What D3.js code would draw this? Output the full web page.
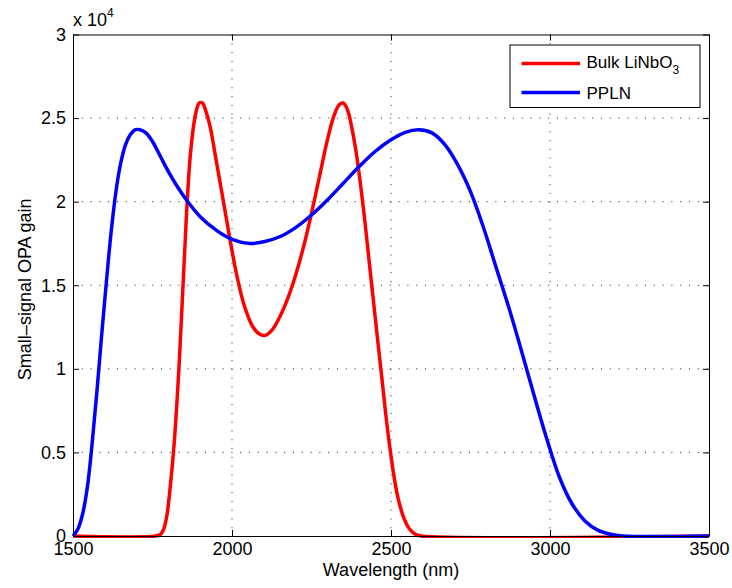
<!DOCTYPE html>
<html>
<head>
<meta charset="utf-8">
<script src="https://cdn.jsdelivr.net/npm/d3@7"></script>
<style>
  body { margin: 0; background: #fff; }
  svg { font-family: "Liberation Sans", Arial, Helvetica, sans-serif; }
</style>
</head>
<body>
<div id="chart"></div>
<script>
// wavelength (nm) and gain (in units of 1e4)
var bulkX = [1500, 1760, 1775, 1785, 1795, 1805, 1818, 1833, 1846, 1857, 1870, 1885, 1897, 1907, 1918, 1931, 1950, 1973, 1994, 2015, 2040, 2066, 2085, 2104, 2125, 2150, 2175, 2200, 2225, 2250, 2275, 2300, 2320, 2337, 2350, 2363, 2377, 2390, 2403, 2418, 2432, 2444, 2457, 2471, 2484, 2497, 2510, 2523, 2540, 2557, 2575, 2595, 3500];
var bulkY = [0, 0, 0.01, 0.04, 0.12, 0.28, 0.55, 1.0, 1.5, 1.93, 2.3, 2.52, 2.59, 2.59, 2.54, 2.45, 2.25, 2.0, 1.77, 1.56, 1.37, 1.25, 1.21, 1.20, 1.23, 1.31, 1.42, 1.56, 1.73, 1.93, 2.15, 2.37, 2.51, 2.58, 2.59, 2.55, 2.44, 2.3, 2.12, 1.88, 1.63, 1.42, 1.19, 0.95, 0.72, 0.52, 0.35, 0.22, 0.11, 0.045, 0.012, 0, 0];

var pplnX = [1500, 1515, 1530, 1545, 1560, 1575, 1590, 1605, 1620, 1635, 1650, 1665, 1680, 1695, 1711, 1730, 1750, 1775, 1800, 1825, 1857, 1900, 1950, 2000, 2057, 2100, 2150, 2200, 2250, 2300, 2350, 2400, 2450, 2500, 2545, 2588, 2630, 2670, 2710, 2750, 2790, 2830, 2870, 2910, 2950, 2990, 3030, 3070, 3110, 3150, 3190, 3230, 3500];
var pplnY = [0, 0.04, 0.13, 0.29, 0.55, 0.86, 1.2, 1.52, 1.82, 2.06, 2.23, 2.34, 2.40, 2.43, 2.43, 2.41, 2.36, 2.27, 2.18, 2.10, 2.01, 1.91, 1.83, 1.775, 1.75, 1.76, 1.79, 1.845, 1.92, 2.01, 2.11, 2.21, 2.30, 2.37, 2.415, 2.43, 2.41, 2.34, 2.22, 2.06, 1.85, 1.61, 1.37, 1.11, 0.84, 0.58, 0.35, 0.19, 0.09, 0.035, 0.01, 0, 0];

var xTicks = [1500, 2000, 2500, 3000, 3500];
var yTicks = [0, 0.5, 1, 1.5, 2, 2.5, 3];
var yTickLabels = ["0", "0.5", "1", "1.5", "2", "2.5", "3"];

var seriesNames = ["Bulk LiNbO", "PPLN"];
var seriesColors = ["#ff0000", "#0000ff"];

var bulk = bulkX.map(function(d, i) { return {x: d, y: bulkY[i]}; });
var ppln = pplnX.map(function(d, i) { return {x: d, y: pplnY[i]}; });

var W = 732, H = 588;
var margin = {top: 34.5, right: 23, bottom: 52, left: 73},
    width = W - margin.left - margin.right,
    height = H - margin.top - margin.bottom;

var svg = d3.select("#chart")
  .append("svg")
  .attr("width", W)
  .attr("height", H);

svg.append("defs").append("clipPath").attr("id", "clip")
  .append("rect")
  .attr("x", -1).attr("y", -4)
  .attr("width", width + 2).attr("height", height + 6);

var g = svg.append("g")
  .attr("transform", "translate(" + margin.left + "," + margin.top + ")");

var x = d3.scaleLinear().domain([1500, 3500]).range([0, width]);
var y = d3.scaleLinear().domain([0, 3]).range([height, 0]);

// dotted grid
var grid = g.append("g").attr("class", "grid");
grid.selectAll("line.gx")
  .data(xTicks.slice(1, -1))
  .enter().append("line")
  .attr("x1", function(d) { return x(d); })
  .attr("x2", function(d) { return x(d); })
  .attr("y1", 0).attr("y2", height);
grid.selectAll("line.gy")
  .data(yTicks.slice(1, -1))
  .enter().append("line")
  .attr("y1", function(d) { return y(d); })
  .attr("y2", function(d) { return y(d); })
  .attr("x1", 0).attr("x2", width);
grid.selectAll("line")
  .attr("stroke", "#222")
  .attr("stroke-width", 1)
  .attr("stroke-dasharray", "1,7.8");

// curves
var line = d3.line()
  .x(function(d) { return x(d.x); })
  .y(function(d) { return y(d.y); })
  .curve(d3.curveCatmullRom.alpha(0.5));

var curves = g.append("g").attr("clip-path", "url(#clip)");
[bulk, ppln].forEach(function(s, i) {
  curves.append("path").datum(s)
    .attr("d", line)
    .attr("fill", "none")
    .attr("stroke", seriesColors[i])
    .attr("stroke-width", 3.5)
    .attr("stroke-linejoin", "round");
});

// axes, ticks pointing inward on all four sides
var fontSize = 18;
g.append("g")
  .attr("transform", "translate(0," + height + ")")
  .call(d3.axisBottom(x).tickValues(xTicks).tickSizeInner(-6).tickSizeOuter(0).tickPadding(6).tickFormat(d3.format("d")));
g.append("g")
  .call(d3.axisLeft(y).tickValues(yTicks).tickSizeInner(-6).tickSizeOuter(0).tickPadding(7)
    .tickFormat(function(d, i) { return yTickLabels[i]; }));
g.append("g")
  .call(d3.axisTop(x).tickValues(xTicks).tickSizeInner(-6).tickSizeOuter(0).tickFormat(""));
g.append("g")
  .attr("transform", "translate(" + width + ",0)")
  .call(d3.axisRight(y).tickValues(yTicks).tickSizeInner(-6).tickSizeOuter(0).tickFormat(""));

g.selectAll(".domain").attr("stroke", "#000").attr("stroke-width", 1);
g.selectAll(".tick line").attr("stroke", "#000");
g.selectAll(".tick text")
  .attr("font-size", fontSize)
  .attr("font-family", "Liberation Sans, Arial, sans-serif")
  .attr("fill", "#000");

// exponent label
var ex = svg.append("text")
  .attr("x", 73)
  .attr("y", 26)
  .attr("font-size", fontSize)
  .attr("fill", "#000")
  .text("x 10");
ex.append("tspan")
  .attr("dy", -9)
  .attr("font-size", 12)
  .text("4");

// axis titles
svg.append("text")
  .attr("x", margin.left + width / 2)
  .attr("y", 576)
  .attr("text-anchor", "middle")
  .attr("font-size", fontSize)
  .attr("fill", "#000")
  .text("Wavelength (nm)");

svg.append("text")
  .attr("transform", "translate(31," + (margin.top + height / 2 + 4) + ") rotate(-90)")
  .attr("text-anchor", "middle")
  .attr("font-size", fontSize)
  .attr("fill", "#000")
  .text("Small\u2013signal OPA gain");

// legend
var lg = svg.append("g").attr("transform", "translate(510,45)");
lg.append("rect")
  .attr("width", 190)
  .attr("height", 62.5)
  .attr("fill", "#fff")
  .attr("stroke", "#000")
  .attr("stroke-width", 1);

seriesNames.forEach(function(name, i) {
  var yy = 18.5 + i * 29;
  lg.append("line")
    .attr("x1", 11.5).attr("x2", 70)
    .attr("y1", yy).attr("y2", yy)
    .attr("stroke", seriesColors[i])
    .attr("stroke-width", 3.5);
  var t = lg.append("text")
    .attr("x", 76.5)
    .attr("y", yy + 4 + (i === 0 ? 0 : 2))
    .attr("font-size", 17)
    .attr("fill", "#000")
    .text(name);
  if (i === 0) {
    t.append("tspan").attr("dy", 6).attr("font-size", 12).text("3");
  }
});
</script>
</body>
</html>
